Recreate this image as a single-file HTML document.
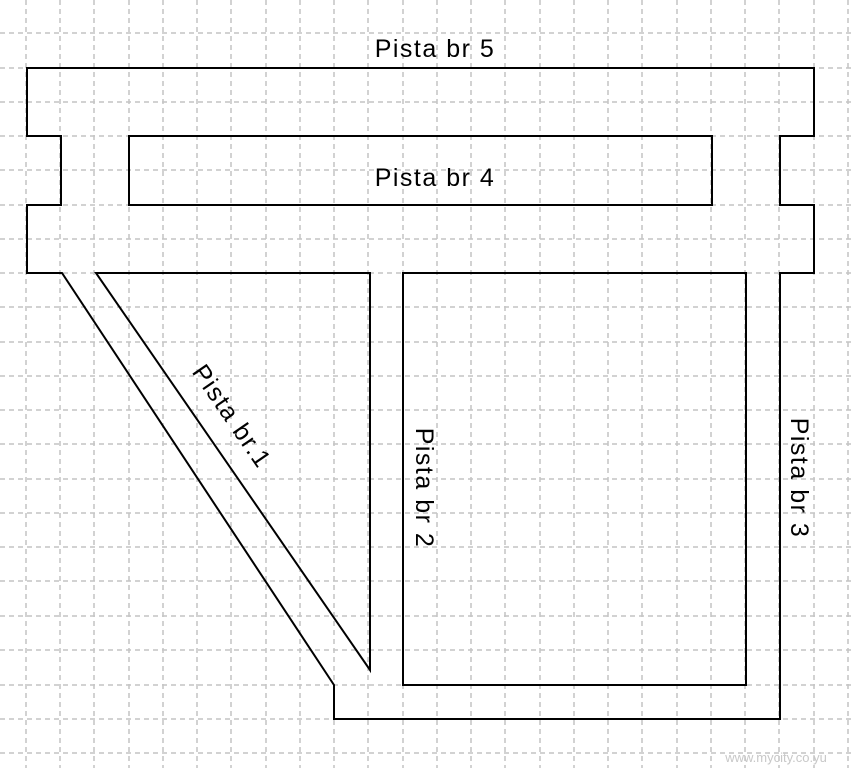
<!DOCTYPE html>
<html><head><meta charset="utf-8"><style>
html,body{margin:0;padding:0;background:#fff;}
svg{display:block;}
text{font-family:"Liberation Sans",sans-serif;fill:#000;}
.t{font-size:25px;letter-spacing:1.5px;}
</style></head><body>
<svg width="853" height="768" viewBox="0 0 853 768" xmlns="http://www.w3.org/2000/svg">
<g stroke="#c4c4c4" stroke-width="1.5" stroke-dasharray="5,4">
<line x1="26" y1="0" x2="26" y2="768"/><line x1="60" y1="0" x2="60" y2="768"/><line x1="94" y1="0" x2="94" y2="768"/><line x1="129" y1="0" x2="129" y2="768"/><line x1="163" y1="0" x2="163" y2="768"/><line x1="197" y1="0" x2="197" y2="768"/><line x1="231" y1="0" x2="231" y2="768"/><line x1="266" y1="0" x2="266" y2="768"/><line x1="300" y1="0" x2="300" y2="768"/><line x1="334" y1="0" x2="334" y2="768"/><line x1="368" y1="0" x2="368" y2="768"/><line x1="403" y1="0" x2="403" y2="768"/><line x1="437" y1="0" x2="437" y2="768"/><line x1="471" y1="0" x2="471" y2="768"/><line x1="505" y1="0" x2="505" y2="768"/><line x1="540" y1="0" x2="540" y2="768"/><line x1="574" y1="0" x2="574" y2="768"/><line x1="608" y1="0" x2="608" y2="768"/><line x1="642" y1="0" x2="642" y2="768"/><line x1="677" y1="0" x2="677" y2="768"/><line x1="711" y1="0" x2="711" y2="768"/><line x1="745" y1="0" x2="745" y2="768"/><line x1="779" y1="0" x2="779" y2="768"/><line x1="814" y1="0" x2="814" y2="768"/><line x1="848" y1="0" x2="848" y2="768"/>
<line y1="33" x1="0" y2="33" x2="853"/><line y1="68" x1="0" y2="68" x2="853"/><line y1="102" x1="0" y2="102" x2="853"/><line y1="136" x1="0" y2="136" x2="853"/><line y1="170" x1="0" y2="170" x2="853"/><line y1="205" x1="0" y2="205" x2="853"/><line y1="239" x1="0" y2="239" x2="853"/><line y1="273" x1="0" y2="273" x2="853"/><line y1="307" x1="0" y2="307" x2="853"/><line y1="342" x1="0" y2="342" x2="853"/><line y1="376" x1="0" y2="376" x2="853"/><line y1="410" x1="0" y2="410" x2="853"/><line y1="444" x1="0" y2="444" x2="853"/><line y1="479" x1="0" y2="479" x2="853"/><line y1="513" x1="0" y2="513" x2="853"/><line y1="547" x1="0" y2="547" x2="853"/><line y1="581" x1="0" y2="581" x2="853"/><line y1="616" x1="0" y2="616" x2="853"/><line y1="650" x1="0" y2="650" x2="853"/><line y1="685" x1="0" y2="685" x2="853"/><line y1="719" x1="0" y2="719" x2="853"/><line y1="753" x1="0" y2="753" x2="853"/>
</g>
<g fill="none" stroke="#000" stroke-width="2">
<path d="M27,68 H814 V136 H780 V205 H814 V273 H780 V719 H334 V685 L62,273 H27 V205 H61 V136 H27 Z"/>
<rect x="129" y="136" width="583" height="69"/>
<path d="M96,273 H370 V670 Z"/>
<rect x="403" y="273" width="343" height="412"/>
</g>
<text class="t" x="435" y="57" text-anchor="middle">Pista br 5</text>
<text class="t" x="435" y="186" text-anchor="middle">Pista br 4</text>
<text class="t" transform="translate(416,488) rotate(90)" text-anchor="middle">Pista br 2</text>
<text class="t" transform="translate(791,478) rotate(90)" text-anchor="middle">Pista br 3</text>
<text class="t" transform="translate(225,421) rotate(55.5)" text-anchor="middle">Pista br.1</text>
<text x="776" y="762" font-size="13" text-anchor="middle" style="fill:#c8c8c8">www.mycity.co.yu</text>
</svg>
</body></html>
